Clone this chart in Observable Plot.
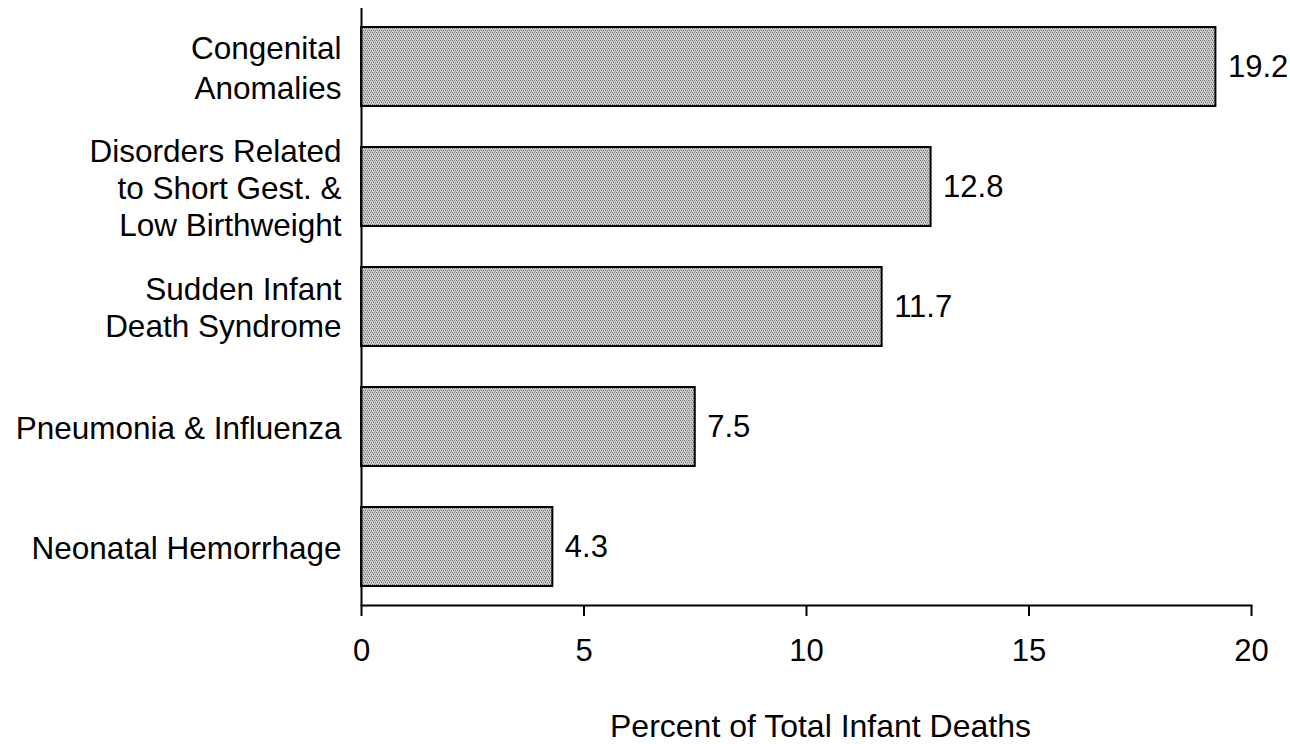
<!DOCTYPE html>
<html>
<head>
<meta charset="utf-8">
<script src="https://cdn.jsdelivr.net/npm/d3@7"></script>
<script src="https://cdn.jsdelivr.net/npm/@observablehq/plot@0.6"></script>
<style>
  html, body { margin: 0; padding: 0; background: #fff; }
  svg { display: block; }
</style>
</head>
<body>
<div id="chart"></div>
<script>
const categories = [
  "Congenital\nAnomalies",
  "Disorders Related\nto Short Gest. &\nLow Birthweight",
  "Sudden Infant\nDeath Syndrome",
  "Pneumonia & Influenza",
  "Neonatal Hemorrhage"
];
const values = [19.2, 12.8, 11.7, 7.5, 4.3];
const valueLabels = ["19.2", "12.8", "11.7", "7.5", "4.3"];
const xTicks = [0, 5, 10, 15, 20];
const xTitle = "Percent of Total Infant Deaths";

const data = categories.map((c, i) => ({cause: c, pct: values[i], label: valueLabels[i]}));

const font = "'Liberation Sans', Arial, sans-serif";

const chart = Plot.plot({
  width: 1290,
  height: 744,
  marginLeft: 361,
  marginRight: 39,
  marginTop: 8,
  marginBottom: 139,
  style: {fontFamily: font, fontSize: "31px", color: "#000", background: "#fff"},
  x: {domain: [0, 20]},
  y: {domain: categories, paddingInner: 0.343, paddingOuter: 0.154},
  marks: [
    Plot.barX(data, {y: "cause", x: "pct", fill: "#b2b2b2", stroke: "#000", strokeWidth: 2}),
    Plot.text(data, {y: "cause", x: "pct", text: "label", textAnchor: "start", dx: 12, fill: "#000", fontSize: 31}),
    Plot.text(data.slice(0, 1), {y: "cause", frameAnchor: "left", text: "cause", textAnchor: "end", dx: -20, dy: -1, lineHeight: 1.29, fill: "#000", fontSize: 31.5}),
    Plot.text(data.slice(1), {y: "cause", frameAnchor: "left", text: "cause", textAnchor: "end", dx: -20, lineHeight: 1.18, fill: "#000", fontSize: 31.5}),
    Plot.ruleX([0], {stroke: "#000", strokeWidth: 2}),
    Plot.frame({anchor: "bottom", stroke: "#000", strokeWidth: 2}),
    Plot.axisX({ticks: xTicks, tickSize: 11, tickPadding: 22, strokeWidth: 2, label: null, fontSize: 31, tickFormat: d => String(d)}),
    Plot.axisY({ticks: [], label: null}),
    Plot.text([xTitle], {frameAnchor: "bottom", dy: 131, dx: 14, fontSize: 32, fill: "#000"})
  ]
});

// add a dither texture for the bars
const svgNS = "http://www.w3.org/2000/svg";
const defs = document.createElementNS(svgNS, "defs");
defs.innerHTML = `<pattern id="dither" width="4" height="4" patternUnits="userSpaceOnUse">
  <rect width="4" height="4" fill="#cdcdcd"/>
  <rect x="0" y="0" width="1" height="1" fill="#7a7a7a"/>
  <rect x="2" y="0" width="1" height="1" fill="#8a8a8a"/>
  <rect x="1" y="2" width="1" height="1" fill="#7a7a7a"/>
  <rect x="3" y="2" width="1" height="1" fill="#8a8a8a"/>
  <rect x="1" y="1" width="1" height="1" fill="#a6a6a6"/>
  <rect x="3" y="3" width="1" height="1" fill="#a6a6a6"/>
</pattern>`;
chart.insertBefore(defs, chart.firstChild);
chart.querySelectorAll("rect").forEach(r => {
  if (r.getAttribute("fill") === "#b2b2b2" || (r.parentNode && r.parentNode.getAttribute("fill") === "#b2b2b2")) {
    r.setAttribute("fill", "url(#dither)");
  }
});
document.getElementById("chart").appendChild(chart);
</script>
</body>
</html>
